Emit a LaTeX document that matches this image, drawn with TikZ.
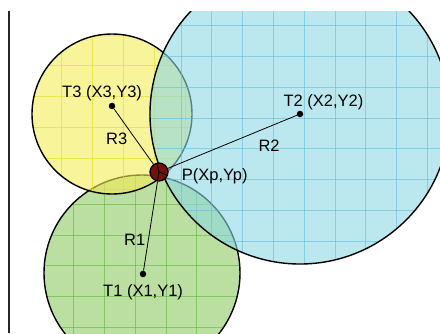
\documentclass[tikz,border=0pt]{standalone}
\usepackage{fontspec}
\setmainfont{Liberation Sans}
\begin{document}
\begin{tikzpicture}[x=1pt,y=-1pt,
  lbl/.style={anchor=base west,inner sep=0pt,font=\fontsize{16.5}{19}\selectfont},
  dotnode/.style={circle,fill=black,inner sep=0pt,minimum size=6.5pt},
  pnode/.style={circle,fill=pred,draw=black,line width=1.3pt,inner sep=0pt,minimum size=18pt},
  ring/.style={draw=black,line width=1.4pt},
  conn/.style={draw=black,line width=0.8pt},
  gline/.style={opacity=0.6,line width=0.6pt}]
\definecolor{yfill}{RGB}{242,236,85}
\definecolor{ygrid}{RGB}{228,220,30}
\definecolor{bfill}{RGB}{142,216,228}
\definecolor{bgrid}{RGB}{95,192,220}
\definecolor{gfill}{RGB}{142,202,98}
\definecolor{ggrid}{RGB}{95,181,60}
\definecolor{pred}{RGB}{122,14,14}
\useasboundingbox (0,0) rectangle (440,333);
\begin{scope}
\clip (0,11) rectangle (440,333);
% green circle
\begin{scope}
  \clip (142,273) circle[radius=98];
  \fill[gfill,opacity=0.6] (142,273) circle[radius=98];
  \foreach \k in {-3,...,4} {
    \draw[ggrid,gline] (73.5+30.8*\k,160) -- (73.5+30.8*\k,380);
    \draw[ggrid,gline] (30,204+30.8*\k) -- (250,204+30.8*\k);
  }
\end{scope}
\draw[ring] (142,273) circle[radius=98];
% yellow circle
\begin{scope}
  \clip (112,114) circle[radius=80];
  \fill[yfill,opacity=0.6] (112,114) circle[radius=80];
  \foreach \k in {-1,...,5} {
    \draw[ygrid,gline] (61.7+30.8*\k,20) -- (61.7+30.8*\k,200);
    \draw[ygrid,gline] (20,65.7+30.8*\k) -- (200,65.7+30.8*\k);
  }
\end{scope}
\draw[ring] (112,114) circle[radius=80];
% blue circle
\begin{scope}
  \clip (300,114) circle[radius=150];
  \fill[bfill,opacity=0.6] (300,114) circle[radius=150];
  \foreach \k in {-4,...,7} {
    \draw[bgrid,gline] (242.5+30.8*\k,-40) -- (242.5+30.8*\k,270);
    \draw[bgrid,gline] (140,25.5+30.8*\k) -- (460,25.5+30.8*\k);
  }
\end{scope}
\draw[ring] (300,114) circle[radius=150];
\end{scope}
% left rule
\draw[line width=2pt,draw=black!85] (9,11) -- (9,333);
% points
\node[dotnode] (T3) at (112,106) {};
\node[dotnode] (T2) at (300,114) {};
\node[dotnode] (T1) at (143,274) {};
\node[pnode] (P) at (159,172) {};
\draw[conn] (T3) -- (P);
\draw[conn] (T2) -- (P);
\draw[conn] (T1) -- (P);
\draw[black,line width=1pt] (P.center) -- ++(-2,-8.5);
\draw[black,line width=1pt] (P.center) -- ++(8,3);
\draw[black,line width=1pt] (P.center) -- ++(-1.5,8.5);
% labels
\node[lbl] (LT3) at (62,97.7) {T3 (X3,Y3)};
\node[lbl] (LR3) at (106,144) {R3};
\node[lbl] (LT2) at (283.3,106.7) {T2 (X2,Y2)};
\node[lbl] (LR2) at (258.3,151.7) {R2};
\node[lbl] (LP) at (181.7,180.5) {P(Xp,Yp)};
\node[lbl] (LR1) at (124,245) {R1};
\node[lbl] (LT1) at (103,296.7) {T1 (X1,Y1)};
\end{tikzpicture}
\end{document}
